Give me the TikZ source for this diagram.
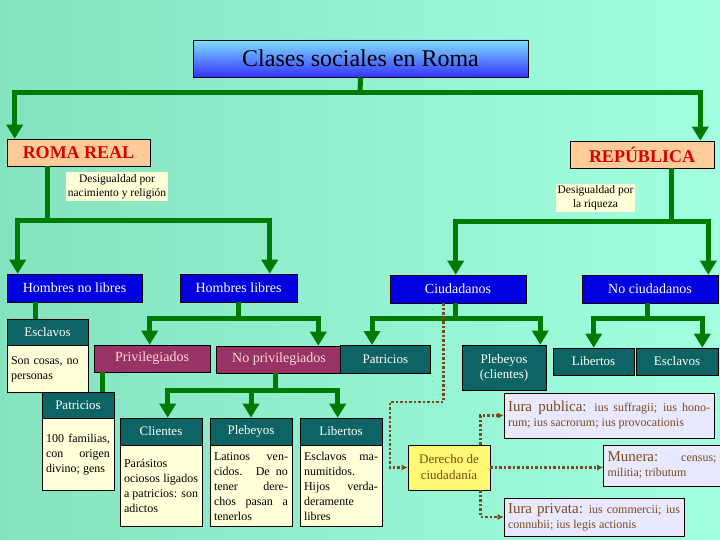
\documentclass[tikz,border=0pt]{standalone}
\usepackage{fontspec}
\setmainfont{Liberation Serif}
\usetikzlibrary{arrows.meta,calc}
\definecolor{gr}{HTML}{007A00}
\definecolor{teal2}{HTML}{0E6464}
\definecolor{maro}{HTML}{993366}
\definecolor{blu}{HTML}{0000E0}
\definecolor{brn}{HTML}{7A4A1A}
\definecolor{cream}{HTML}{FFFFD8}
\definecolor{lav}{HTML}{E8E8FF}
\begin{document}
\begin{tikzpicture}[x=1pt,y=-1pt,
 bx/.style={draw=black,line width=0.6pt,inner sep=2pt,align=center},
 blue/.style={bx,fill=blu,text=white,font=\fontsize{14}{16}\selectfont},
 hd/.style={bx,fill=teal2,text=white,font=\fontsize{13}{15}\selectfont},
 mr/.style={bx,fill=maro,text=pink!60,font=\fontsize{14}{16}\selectfont},
 tx/.style={bx,fill=cream,align=justify,font=\fontsize{12}{15}\selectfont,anchor=north,inner sep=4pt},
 note/.style={fill=cream,align=center,font=\fontsize{11.5}{14}\selectfont,inner sep=2pt},
 per/.style={bx,fill=orange!40,text=red!85!black,font=\bfseries\fontsize{18}{20}\selectfont},
 lv/.style={bx,fill=lav,text=brn,align=justify,font=\fontsize{12}{15}\selectfont,inner sep=4pt},
 gl/.style={draw=gr,line width=5pt},
 ga/.style={draw=gr,line width=5pt,-{Triangle[width=16pt,length=14pt]}},
 dl/.style={draw=brn,line width=2.5pt,dotted,-{Latex[length=6pt,width=6pt]}}]
\shade[left color=green!40!cyan!45!gray!80, right color=green!30!cyan!35] (0,0) rectangle (720,540);
\fill[green!35!cyan!38,opacity=0.5] (0,0) rectangle (720,540);
\useasboundingbox (0,0) rectangle (720,540);
\node[bx,top color=blue!25!cyan!50,bottom color=blue!80,minimum width=335,minimum height=37,font=\fontsize{24}{26}\selectfont] (title) at (360.5,58.5) {Clases sociales en Roma};
\node[per,minimum width=143,minimum height=27] (roma) at (78.5,152.5) {ROMA REAL};
\node[per,minimum width=144,minimum height=27] (rep) at (642,154.5) {REPÚBLICA};
\node[blue,minimum width=135,minimum height=28] (hnl) at (74.5,288) {Hombres no libres};
\node[blue,minimum width=117,minimum height=28] (hl) at (238.5,288) {Hombres libres};
\node[blue,minimum width=136,minimum height=28] (ciud) at (458,289) {Ciudadanos};
\node[blue,minimum width=136,minimum height=28] (nociud) at (650,289) {No ciudadanos};
\node[hd,minimum width=81,minimum height=26] (esclH) at (47.5,332) {Esclavos};
\node[tx,text width=73,minimum height=47,align=left] (esclT) at (esclH.south) {Son cosas, no personas};
\node[mr,minimum width=116,minimum height=27] (priv) at (152,358.5) {Privilegiados};
\node[mr,minimum width=126,minimum height=27] (nopriv) at (279,359.5) {No privilegiados};
\node[hd,minimum width=90,minimum height=28,anchor=north west] (patr2) at (340,345) {Patricios};
\node[hd,minimum width=84,minimum height=45] (pleb2) at (504,367.5) {Plebeyos\\(clientes)};
\node[hd,minimum width=81,minimum height=27] (lib2) at (593.5,361.5) {Libertos};
\node[hd,minimum width=82,minimum height=27] (escl2) at (677,361.5) {Esclavos};
\node[hd,minimum width=72,minimum height=26] (patrH) at (78,405) {Patricios};
\node[tx,text width=64,minimum height=72] (patrT) at (patrH.south) {100 fami\-lias, con origen divi\-no; gens};
\node[hd,minimum width=82,minimum height=27] (cliH) at (161,431.5) {Clientes};
\node[tx,text width=74,minimum height=81] (cliT) at (cliH.south) {Parásitos ociosos liga\-dos a patri\-cios: son adictos};
\node[hd,minimum width=82,minimum height=27] (pleH) at (251,431.5) {Plebeyos};
\node[tx,text width=74,minimum height=81] (pleT) at (pleH.south) {Latinos ven\-cidos. De no tener dere\-chos pasan a tenerlos};
\node[hd,minimum width=82,minimum height=27] (libH) at (341,431.5) {Libertos};
\node[tx,text width=74,minimum height=81] (libT) at (libH.south) {Esclavos ma\-numitidos. Hijos verda\-deramente li\-bres};
\node[bx,fill=yellow!55,text=brn,minimum width=82,minimum height=45,font=\fontsize{13}{16}\selectfont] (der) at (449,467.5) {Derecho de\\ciudadanía};
\node[lv,text width=202,minimum height=45] (ipub) at (609,415.5) {{\fontsize{15}{15}\selectfont Iura publica:} ius suffragii; ius honorum; ius sacrorum; ius provocationis};
\node[lv,text width=109,minimum height=41] (mun) at (662,465.5) {{\fontsize{15}{15}\selectfont Munera:} census; militia; tributum};
\node[lv,text width=172,minimum height=38] (ipriv) at (594,517) {{\fontsize{15}{15}\selectfont Iura privata:} ius commercii; ius connubii; ius legis actionis};
% green connectors
\draw[gl] (title.south) -- (360,93) coordinate (t1);
\draw[ga] (t1) -| ($(roma.north west)+(8,0)$);
\draw[ga] (t1) -| ($(rep.north east)+(-14,0)$);
\draw[gl] ($(roma.south west)+(41,0)$) -- ++(0,54) coordinate (r1);
\draw[ga] (r1) -| ($(hnl.north west)+(11,0)$);
\draw[ga] (r1) -| ($(hl.north west)+(90,0)$);
\draw[gl] ($(rep.south west)+(102,0)$) -- ++(0,53) coordinate (p1);
\draw[ga] (p1) -| ($(ciud.north west)+(66,0)$);
\draw[ga] (p1) -| ($(nociud.north east)+(-10,0)$);
\node[note] (d1) at (117,186.5) {Desigualdad por\\nacimiento y religión};
\node[note] (d2) at (595.5,198) {Desigualdad por\\la riqueza};
\draw[gl] ($(hnl.south west)+(29,0)$) -- ($(esclH.north west)+(29,0)$);
\draw[gl] (hl.south) -- ++(0,16) coordinate (h1);
\draw[ga] (h1) -| ($(priv.north west)+(56,0)$);
\draw[ga] (h1) -| ($(nopriv.north east)+(-24,0)$);
\draw[gl] ($(ciud.south west)+(66,0)$) -- ++(0,15) coordinate (c1);
\draw[ga] (c1) -| ($(patr2.north west)+(32,0)$);
\draw[ga] (c1) -| ($(pleb2.north east)+(-6,0)$);
\draw[gl] ($(nociud.south west)+(66,0)$) -- ++(0,15) coordinate (n1);
\draw[ga] (n1) -| ($(lib2.north west)+(41,0)$);
\draw[ga] (n1) -| ($(escl2.north east)+(-16,0)$);
\draw[gl] ($(priv.south west)+(9,0)$) -- ($(patrH.north west)+(61,0)$);
\draw[gl] ($(nopriv.south west)+(60,0)$) -- ++(0,17) coordinate (np1);
\draw[ga] (np1) -| ($(cliH.north west)+(48,0)$);
\draw[ga] (np1) -| (pleH.north);
\draw[ga] (np1) -| ($(libH.north west)+(38,0)$);
% dotted
\coordinate (q1) at (390,402);
\draw[dl] ($(ciud.south west)+(54,0)$) |- (q1) |- (der.west);
\draw[dl] ($(der.north east)+(-10,0)$) |- (ipub.west);
\draw[dl] (der.east) -- (der.east -| mun.west);
\draw[dl] ($(der.south east)+(-10,0)$) |- (ipriv.west);
\end{tikzpicture}
\end{document}
